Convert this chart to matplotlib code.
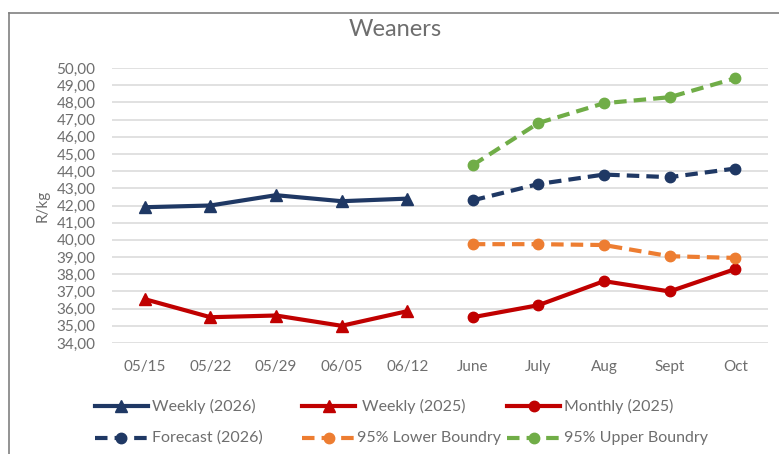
import matplotlib.pyplot as plt
from matplotlib.lines import Line2D

plt.rcParams['font.family'] = ['Lato', 'DejaVu Sans']

# categories
weeks = ['05/15', '05/22', '05/29', '06/05', '06/12']
months = ['June', 'July', 'Aug', 'Sept', 'Oct']

# series (R/kg)
weekly_2026 = [41.9, 42.0, 42.6, 42.25, 42.4]
weekly_2025 = [36.55, 35.5, 35.6, 35.0, 35.85]
monthly_2025 = [35.5, 36.2, 37.6, 37.0, 38.3]
forecast_2026 = [42.3, 43.25, 43.8, 43.65, 44.15]
lower_95 = [39.75, 39.75, 39.7, 39.05, 38.95]
upper_95 = [44.35, 46.8, 47.95, 48.3, 49.4]

NAVY = '#1f3864'
RED = '#c00000'
ORANGE = '#ed7d31'
GREEN = '#70ad47'
GREY = '#6e6e6e'

W, H = 779, 454
fig = plt.figure(figsize=(W / 100, H / 100), dpi=100)
ax = fig.add_axes([112 / W, 1 - 343 / H, (768 - 112) / W, (343 - 68) / H])

lw = 3
ms = 7.5
dash = (3, 1.7)

ax.plot(weeks, weekly_2026, color=NAVY, lw=lw, marker='^', ms=ms + 1, zorder=3)
ax.plot(weeks, weekly_2025, color=RED, lw=lw, marker='^', ms=ms + 1, zorder=3)
ax.plot(months, monthly_2025, color=RED, lw=lw, marker='o', ms=ms, zorder=3)
ax.plot(months, forecast_2026, color=NAVY, lw=lw, marker='o', ms=ms, dashes=dash, zorder=3)
ax.plot(months, lower_95, color=ORANGE, lw=lw, marker='o', ms=ms, dashes=dash, zorder=3)
ax.plot(months, upper_95, color=GREEN, lw=lw, marker='o', ms=ms, dashes=dash, zorder=3)

ax.set_xlim(-0.5, 9.5)
ax.set_ylim(34, 50)
ax.set_yticks(range(34, 51))
ax.set_yticklabels([f'{v},00' for v in range(34, 51)])
ax.grid(axis='y', color='#d9d9d9', lw=1.1)
ax.set_axisbelow(True)
for s in ax.spines.values():
    s.set_visible(False)
ax.tick_params(length=0, labelsize=11, labelcolor=GREY)
ax.tick_params(axis='y', pad=12)
ax.tick_params(axis='x', pad=12)
ax.set_ylabel('R/kg', fontsize=11, color=GREY, labelpad=5)

fig.text(395 / W, 1 - 30 / H, 'Weaners', ha='center', va='center', fontsize=17, color=GREY)

# chart border (top and left)
fig.add_artist(Line2D([9 / W, 1], [1 - 13 / H, 1 - 13 / H], color='#808080', lw=1.2, transform=fig.transFigure))
fig.add_artist(Line2D([9 / W, 9 / W], [0, 1 - 13 / H], color='#808080', lw=1.2, transform=fig.transFigure))

# legend, drawn by hand to keep Excel's column positions
entries = [
    ('Weekly (2026)', NAVY, '^', None, 95, 152, 406),
    ('Weekly (2025)', RED, '^', None, 302, 362, 406),
    ('Monthly (2025)', RED, 'o', None, 507, 564, 406),
    ('Forecast (2026)', NAVY, 'o', dash, 95, 152, 438),
    ('95% Lower Boundry', ORANGE, 'o', dash, 302, 357, 438),
    ('95% Upper Boundry', GREEN, 'o', dash, 507, 564, 438),
]
for label, col, mk, ds, x0, xt, yy in entries:
    y = 1 - yy / H
    x1 = x0 + 53
    ln = Line2D([x0 / W, x1 / W], [y, y], color=col, lw=lw, transform=fig.transFigure)
    if ds:
        ln.set_dashes(ds)
    fig.add_artist(ln)
    fig.add_artist(Line2D([(x0 + x1) / 2 / W], [y], color=col, marker=mk,
                          ms=ms + (1 if mk == '^' else 0), lw=0, transform=fig.transFigure))
    fig.text(xt / W, y, label, ha='left', va='center', fontsize=11.5, color=GREY)

fig.savefig('out.png', dpi=100)
